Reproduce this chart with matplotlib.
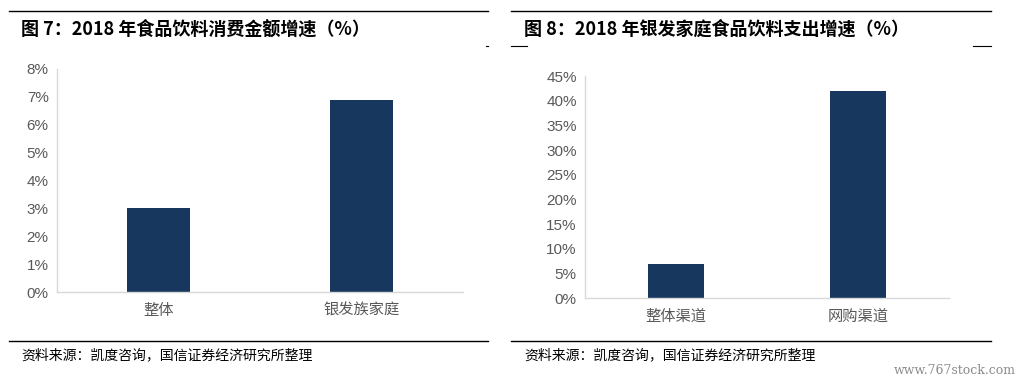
import matplotlib.pyplot as plt
from matplotlib.lines import Line2D

plt.rcParams['font.family'] = ['Liberation Sans', 'Noto Sans CJK SC', 'DejaVu Sans']

# data
left_title = '图 7：2018 年食品饮料消费金额增速（%）'
left_cats = ['整体', '银发族家庭']
left_vals = [3.0, 6.9]
left_ticks = [0, 1, 2, 3, 4, 5, 6, 7, 8]

right_title = '图 8：2018 年银发家庭食品饮料支出增速（%）'
right_cats = ['整体渠道', '网购渠道']
right_vals = [6.9, 41.9]
right_ticks = [0, 5, 10, 15, 20, 25, 30, 35, 40, 45]

source = '资料来源：凯度咨询，国信证券经济研究所整理'

W, H = 1022, 381
BAR = '#17375E'
GRID = '#D9D9D9'
LBL = '#595959'
cjk = ['Noto Sans CJK SC', 'DejaVu Sans']


def px_axes(fig, x0, x1, ytop, ybot):
    return fig.add_axes([x0 / W, (H - ybot) / H, (x1 - x0) / W, (ybot - ytop) / H])


def draw_panel(ax, cats, vals, ticks):
    ax.bar(range(len(cats)), vals, width=0.31, color=BAR)
    ax.set_xlim(-0.5, len(cats) - 0.5)
    ax.set_ylim(ticks[0], ticks[-1])
    ax.set_yticks(ticks)
    ax.set_yticklabels([f'{t}%' for t in ticks], fontsize=11, color=LBL)
    ax.set_xticks(range(len(cats)))
    ax.set_xticklabels(cats, fontsize=11, color=LBL, family=cjk)
    ax.tick_params(length=0, pad=6)
    ax.tick_params(axis='x', pad=7)
    for s in ['top', 'right']:
        ax.spines[s].set_visible(False)
    for s in ['left', 'bottom']:
        ax.spines[s].set_color(GRID)
        ax.spines[s].set_linewidth(1)


fig = plt.figure(figsize=(W / 100, H / 100), dpi=100)

ax1 = px_axes(fig, 57, 463, 69, 292)
draw_panel(ax1, left_cats, left_vals, left_ticks)
ax2 = px_axes(fig, 585, 949, 76, 298)
draw_panel(ax2, right_cats, right_vals, right_ticks)


def hline(x0, x1, y, lw=1.0):
    fig.add_artist(Line2D([x0 / W, x1 / W], [(H - y) / H, (H - y) / H], color='black', lw=lw))


# header / footer rules
hline(9, 488, 11)
hline(511, 991, 11)
hline(9, 488, 341)
hline(511, 991, 341)
hline(486, 488, 46, lw=0.8)
hline(511, 527, 46, lw=0.8)
hline(973, 991, 46, lw=0.8)

fig.text(21 / W, (H - 29) / H, left_title, fontsize=13, fontweight='bold',
         family=cjk, va='center', ha='left')
fig.text(524 / W, (H - 29) / H, right_title, fontsize=13, fontweight='bold',
         family=cjk, va='center', ha='left')
fig.text(21 / W, (H - 355) / H, source, fontsize=10, family=cjk, va='center', ha='left')
fig.text(524 / W, (H - 355) / H, source, fontsize=10, family=cjk, va='center', ha='left')
fig.text(1016 / W, (H - 370) / H, 'www.767stock.com', fontsize=9, color='#8C8C8C',
         family=['DejaVu Serif'], va='center', ha='right')

fig.savefig('out.png', dpi=100)
